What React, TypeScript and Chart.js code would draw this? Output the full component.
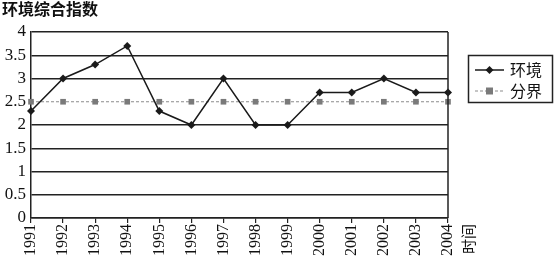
import React, { useEffect, useRef } from "react";
import { Chart, registerables } from "chart.js";

Chart.register(...registerables);

const years = ["1991","1992","1993","1994","1995","1996","1997","1998","1999","2000","2001","2002","2003","2004"];
const envValues = [2.3, 3.0, 3.3, 3.7, 2.3, 2.0, 3.0, 2.0, 2.0, 2.7, 2.7, 3.0, 2.7, 2.7];
const boundaryValues = [2.5, 2.5, 2.5, 2.5, 2.5, 2.5, 2.5, 2.5, 2.5, 2.5, 2.5, 2.5, 2.5, 2.5];
const envLabel = "环境";
const boundaryLabel = "分界";
const yTitle = "环境综合指数";
const xTitle = "时间";

const CJK = "'Noto Sans CJK SC', 'Noto Sans', sans-serif";
const SERIF = "'Liberation Serif', 'DejaVu Serif', serif";

const extras = {
  id: "extras",
  afterDraw(chart: any) {
    const { ctx, chartArea } = chart;
    ctx.save();
    // right border
    ctx.strokeStyle = "#222";
    ctx.lineWidth = 1.5;
    ctx.beginPath();
    ctx.moveTo(chartArea.right, chartArea.top);
    ctx.lineTo(chartArea.right, chartArea.bottom);
    ctx.stroke();
    // title
    ctx.fillStyle = "#111";
    ctx.font = `bold 16px ${CJK}`;
    ctx.textBaseline = "top";
    ctx.textAlign = "left";
    ctx.fillText(yTitle, 2, 1);
    // x title rotated
    ctx.save();
    ctx.translate(468, 239);
    ctx.rotate(-Math.PI / 2);
    ctx.font = `15px ${CJK}`;
    ctx.textAlign = "center";
    ctx.textBaseline = "middle";
    ctx.fillText(xTitle, 0, 0);
    ctx.restore();
    // legend box
    ctx.strokeStyle = "#222";
    ctx.lineWidth = 1.5;
    ctx.strokeRect(468.5, 55.5, 84, 47);
    const items = chart.data.datasets;
    const rowsY = [70, 91];
    items.forEach((ds: any, i: number) => {
      const y = rowsY[i];
      ctx.save();
      ctx.strokeStyle = ds.borderColor;
      ctx.lineWidth = ds.borderWidth;
      ctx.setLineDash(ds.borderDash || []);
      ctx.beginPath();
      ctx.moveTo(475, y);
      ctx.lineTo(504, y);
      ctx.stroke();
      ctx.setLineDash([]);
      ctx.fillStyle = ds.pointBackgroundColor;
      ctx.beginPath();
      if (ds.pointStyle === "rectRot") {
        ctx.moveTo(489.5, y - 4);
        ctx.lineTo(493.5, y);
        ctx.lineTo(489.5, y + 4);
        ctx.lineTo(485.5, y);
        ctx.closePath();
      } else {
        ctx.rect(486, y - 3.5, 7, 7);
      }
      ctx.fill();
      ctx.restore();
      ctx.fillStyle = "#111";
      ctx.font = `16px ${CJK}`;
      ctx.textAlign = "left";
      ctx.textBaseline = "middle";
      ctx.fillText(ds.label, 510, y);
    });
    ctx.restore();
  },
};

export default function App() {
  const ref = useRef<HTMLCanvasElement>(null);
  useEffect(() => {
    document.body.style.margin = "0";
    const chart = new Chart(ref.current!, {
      type: "line",
      data: {
        labels: years,
        datasets: [
          {
            label: envLabel,
            data: envValues,
            borderColor: "#1a1a1a",
            backgroundColor: "#1a1a1a",
            pointBackgroundColor: "#1a1a1a",
            pointBorderColor: "#1a1a1a",
            borderWidth: 1.5,
            pointStyle: "rectRot",
            pointRadius: 4,
            pointBorderWidth: 0,
            tension: 0,
            clip: false as any,
          } as any,
          {
            label: boundaryLabel,
            data: boundaryValues,
            borderColor: "#8c8c8c",
            backgroundColor: "#7a7a7a",
            pointBackgroundColor: "#7a7a7a",
            pointBorderColor: "#7a7a7a",
            borderWidth: 1.2,
            borderDash: [3, 2],
            pointStyle: "rect",
            pointRadius: 4,
            pointBorderWidth: 0,
            tension: 0,
            clip: false as any,
          } as any,
        ],
      },
      options: {
        animation: false,
        responsive: false,
        layout: { padding: { top: 32, right: 107, left: 0, bottom: 0 } },
        plugins: { legend: { display: false }, tooltip: { enabled: false } },
        scales: {
          x: {
            offset: false,
            grid: { display: true, drawOnChartArea: false, drawTicks: true, tickLength: 5, color: "#222", lineWidth: 1.2 },
            border: { display: true, color: "#222", width: 1.5 },
            ticks: {
              minRotation: 90,
              maxRotation: 90,
              autoSkip: false,
              padding: 1,
              color: "#111",
              font: { family: SERIF, size: 16 },
            },
            afterFit(scale: any) { scale.height = 38; },
          },
          y: {
            min: 0,
            max: 4,
            ticks: {
              stepSize: 0.5,
              autoSkip: false,
              padding: 5,
              color: "#111",
              font: { family: SERIF, size: 17 },
              callback: (v: any) => String(Number(v)),
            },
            grid: {
              drawTicks: false,
              color: (c: any) => (c.tick && c.tick.value === 2.5 ? "rgba(0,0,0,0)" : "#222"),
              lineWidth: 1.5,
            },
            border: { display: true, color: "#222", width: 1.5 },
            afterFit(scale: any) { scale.width = 31; },
          },
        },
      },
      plugins: [extras],
    });
    return () => chart.destroy();
  }, []);
  return (
    <div style={{ width: 555, height: 256 }}>
      <canvas ref={ref} width={555} height={256} style={{ display: "block" }} />
    </div>
  );
}
